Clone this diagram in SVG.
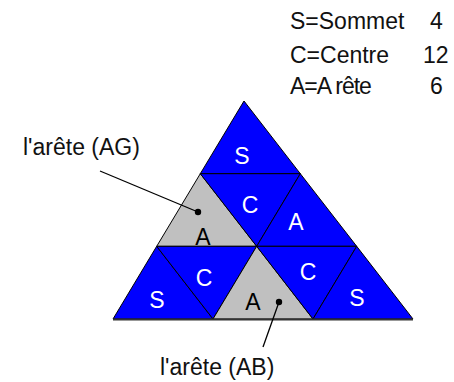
<svg xmlns="http://www.w3.org/2000/svg" width="454" height="382" viewBox="0 0 454 382">
  <style>
    .blue { fill: #0000FF; stroke: #000; stroke-width: 1; stroke-linejoin: round; }
    .gray { fill: #C0C0C0; stroke: #000; stroke-width: 1; stroke-linejoin: round; }
    .lw { font-family: "Liberation Sans", Arial, sans-serif; font-size: 23px; fill: #fff; text-anchor: middle; }
    .lb { font-family: "Liberation Sans", Arial, sans-serif; font-size: 23px; fill: #000; text-anchor: middle; }
    .txt { font-family: "Liberation Sans", Arial, sans-serif; font-size: 23px; fill: #111; }
    .lead { stroke: #000; stroke-width: 1.3; fill: none; }
  </style>
  <rect width="454" height="382" fill="#fff"/>

  <g id="legend">
    <text class="txt" x="290" y="29">S=Sommet</text>
    <text class="txt" x="430" y="29">4</text>
    <text class="txt" x="290" y="63">C=Centre</text>
    <text class="txt" x="423" y="63">12</text>
    <text class="txt" x="290" y="94" letter-spacing="-1">A=A rête</text>
    <text class="txt" x="430" y="94">6</text>
  </g>

  <g id="tri-S-top">
    <polygon class="blue" points="244,101 200.3,173.7 300.3,173.7"/>
    <text class="lw" x="242" y="164">S</text>
  </g>
  <g id="tri-A-gray-1">
    <polygon class="gray" points="200.3,173.7 156.7,246.3 256.7,246.3"/>
    <text class="lb" x="203" y="245">A</text>
  </g>
  <g id="tri-C-1">
    <polygon class="blue" points="200.3,173.7 300.3,173.7 256.7,246.3"/>
    <text class="lw" x="250" y="213">C</text>
  </g>
  <g id="tri-A-blue">
    <polygon class="blue" points="300.3,173.7 256.7,246.3 356.7,246.3"/>
    <text class="lw" x="296" y="230">A</text>
  </g>
  <g id="tri-S-left">
    <polygon class="blue" points="156.7,246.3 113,319 213,319"/>
    <text class="lw" x="157" y="308">S</text>
  </g>
  <g id="tri-C-2">
    <polygon class="blue" points="156.7,246.3 256.7,246.3 213,319"/>
    <text class="lw" x="204" y="286">C</text>
  </g>
  <g id="tri-A-gray-2">
    <polygon class="gray" points="256.7,246.3 213,319 313,319"/>
    <text class="lb" x="253" y="310">A</text>
  </g>
  <g id="tri-C-3">
    <polygon class="blue" points="256.7,246.3 356.7,246.3 313,319"/>
    <text class="lw" x="308" y="280">C</text>
  </g>
  <g id="tri-S-right">
    <polygon class="blue" points="356.7,246.3 313,319 413,319"/>
    <text class="lw" x="357" y="306">S</text>
  </g>
  <line x1="113" y1="319.5" x2="413" y2="319.5" stroke="#333" stroke-width="2"/>

  <g id="connectors">
    <line class="lead" x1="100" y1="171" x2="198" y2="212"/>
    <circle cx="198" cy="212" r="3.2" fill="#000"/>
    <line class="lead" x1="279" y1="302" x2="263" y2="347"/>
    <circle cx="279" cy="302" r="3.2" fill="#000"/>
  </g>

  <g id="label-AG">
    <text class="txt" x="23" y="155">l'arête (AG)</text>
  </g>
  <g id="label-AB">
    <text class="txt" x="160" y="375">l'arête (AB)</text>
  </g>
</svg>
